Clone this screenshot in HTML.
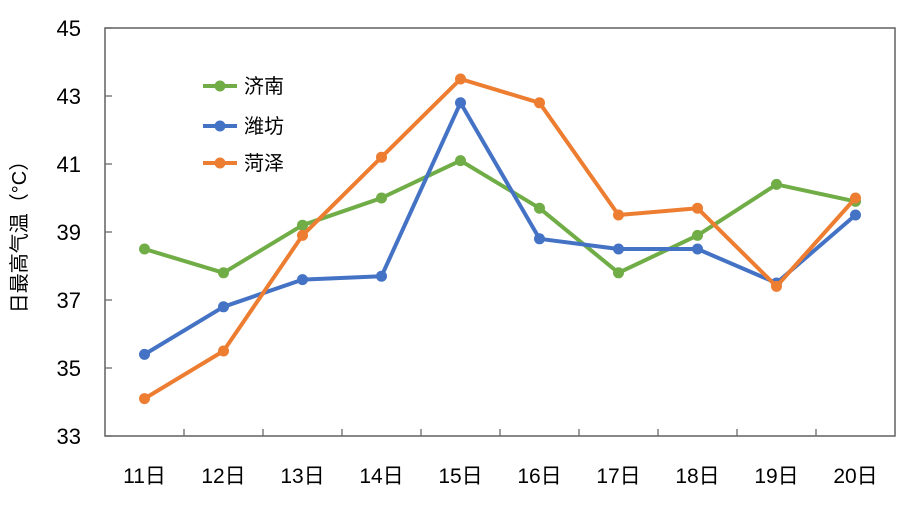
<!DOCTYPE html>
<html><head><meta charset="utf-8">
<style>
body{margin:0;background:#fff;}
svg text{font-family:"Liberation Sans","Noto Sans CJK SC",sans-serif;fill:#000;}
</style></head>
<body>
<svg id="chart" width="908" height="501" xmlns="http://www.w3.org/2000/svg"></svg>
<script>
const categories=["11日","12日","13日","14日","15日","16日","17日","18日","19日","20日"];
const seriesNames=["济南","潍坊","菏泽"];
const jinan=[38.5,37.8,39.2,40.0,41.1,39.7,37.8,38.9,40.4,39.9];
const weifang=[35.4,36.8,37.6,37.7,42.8,38.8,38.5,38.5,37.5,39.5];
const heze=[34.1,35.5,38.9,41.2,43.5,42.8,39.5,39.7,37.4,40.0];
const yTicks=[33,35,37,39,41,43,45];
const colors=["#70AD47","#4472C4","#ED7D31"];

const svg=document.getElementById('chart');
const NS="http://www.w3.org/2000/svg";
const L=105,R=895,T=28,B=436,yMin=33,yMax=45;
const bw=(R-L)/categories.length;
const xs=i=>L+bw*(i+0.5);
const ys=v=>B-(v-yMin)/(yMax-yMin)*(B-T);
function mk(tag,attrs,parent){const e=document.createElementNS(NS,tag);for(const k in attrs)e.setAttribute(k,attrs[k]);(parent||svg).appendChild(e);return e;}

const frame=mk('rect',{x:L,y:T,width:R-L,height:B-T,fill:'none',stroke:'#6b6b6b','stroke-width':1.6});



yTicks.forEach(v=>{
  const t=mk('line',{x1:L,x2:L+7,y1:ys(v),y2:ys(v),stroke:'#6b6b6b','stroke-width':1.3});
  
  
  const tx=mk('text',{x:81,y:ys(v)+8,'text-anchor':'end','font-size':22});
  tx.textContent=v;
  
  
});
for(let i=1;i<categories.length;i++){
  const t=mk('line',{x1:L+bw*i,x2:L+bw*i,y1:B,y2:B-7,stroke:'#6b6b6b','stroke-width':1.3});
  
  
}
categories.forEach((c,i)=>{
  const tx=mk('text',{x:xs(i),y:483,'text-anchor':'middle','font-size':21});
  tx.textContent=c;
  
  
});
const yt=mk('text',{x:0,y:0,'text-anchor':'middle','font-size':20,transform:'translate(26,232) rotate(-90)'});
yt.textContent="日最高气温（°C）";



[jinan,weifang,heze].forEach((data,s)=>{
  const g=mk('g',{});
  
  
  const pl=mk('polyline',{points:data.map((v,i)=>xs(i)+','+ys(v)).join(' '),fill:'none',stroke:colors[s],'stroke-width':4,'stroke-linejoin':'round'},g);
  
  
  data.forEach((v,i)=>{
    const c=mk('circle',{cx:xs(i),cy:ys(v),r:5.5,fill:colors[s]},g);
    
    
  });
  const ly=[86,126,163][s];
  const lg=mk('g',{});
  
  
  mk('line',{x1:203,x2:237,y1:ly,y2:ly,stroke:colors[s],'stroke-width':4},lg);
  mk('circle',{cx:220,cy:ly,r:5.5,fill:colors[s]},lg);
  const lt=mk('text',{x:244,y:ly+7,'font-size':20},lg);
  lt.textContent=seriesNames[s];
});
</script>
</body></html>
